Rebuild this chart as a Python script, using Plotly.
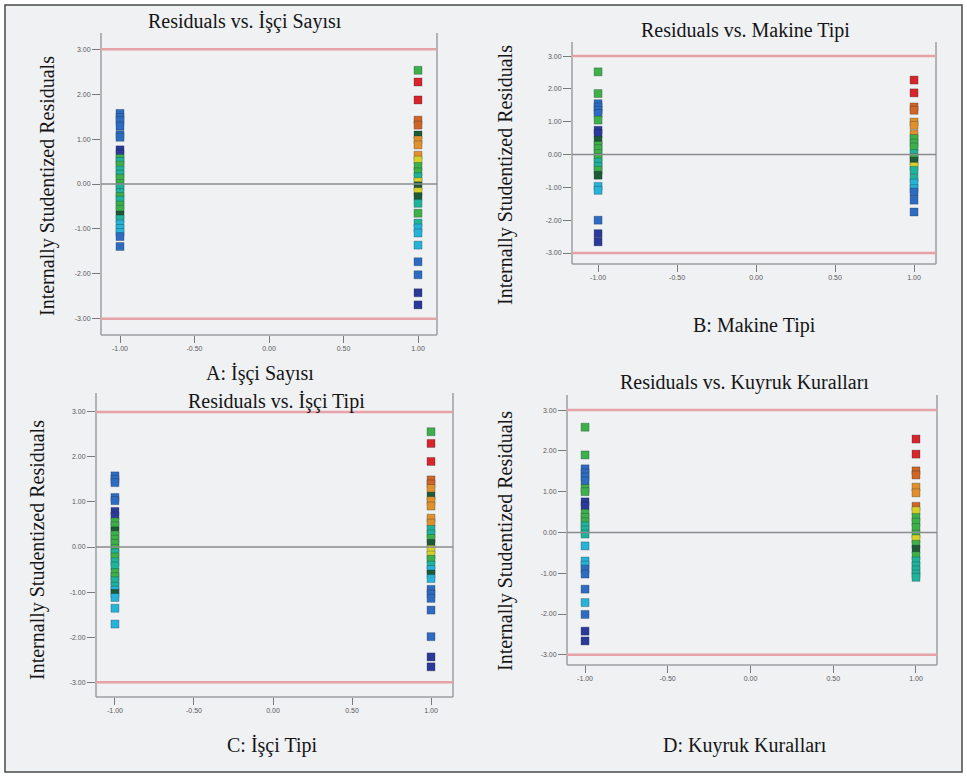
import plotly.graph_objects as go

W, H = 967, 777

# ---- residuals by factor level (internally studentized) ----
# colour codes: B dark blue, b blue, c cyan, t teal, g green, G dark green,
#               y yellow, o orange, O dark orange, r red
A_LOW = [1.57, 1.48, 1.41, 1.29, 1.10, 1.04, 0.76, 0.68, 0.57, 0.50, 0.42, 0.31, 0.22, 0.13,
         0.01, -0.07, -0.19, -0.28, -0.36, -0.47, -0.56, -0.69, -0.78, -0.89, -0.99, -1.08,
         -1.17, -1.39]
A_LOW_COL = "bbbbbbBBgtgttggttgtggGtcccbb"
A_HIGH = [2.53, 2.27, 1.87, 1.42, 1.31, 1.09, 0.98, 0.87, 0.64, 0.53, 0.39, 0.27, 0.16, 0.05,
          -0.04, -0.17, -0.28, -0.43, -0.65, -0.87, -0.98, -1.09, -1.36, -1.73, -2.02, -2.42,
          -2.69]
A_HIGH_COL = "grrOOGoooyggtyGyGtgtcccbbBB"

B_LOW = [2.52, 1.86, 1.55, 1.45, 1.35, 1.25, 1.05, 0.74, 0.64, 0.44, 0.28, 0.18, 0.03, -0.09,
         -0.23, -0.36, -0.48, -0.63, -0.97, -1.09, -2.00, -2.41, -2.66]
B_LOW_COL = "ggbbbbgBBGggggttgGccbBB"
B_HIGH = [2.27, 1.88, 1.45, 1.35, 0.99, 0.89, 0.62, 0.49, 0.35, 0.23, 0.03, -0.09, -0.20, -0.36,
          -0.48, -0.73, -0.87, -1.04, -1.14, -1.39, -1.75]
B_HIGH_COL = "rrOOooogggtgGyttccbbbc"

C_LOW = [1.58, 1.50, 1.43, 1.10, 1.03, 0.79, 0.69, 0.56, 0.47, 0.36, 0.27, 0.17, 0.08, -0.03,
         -0.13, -0.22, -0.33, -0.42, -0.57, -0.66, -0.75, -0.87, -0.96, -1.03, -1.12, -1.36,
         -1.71]
C_LOW_COL = "bbbbbBBggGggggtgttggttcGccc"
C_HIGH = [2.56, 2.30, 1.90, 1.49, 1.40, 1.30, 1.13, 1.03, 0.91, 0.64, 0.53, 0.39, 0.29, 0.19,
          0.08, -0.05, -0.18, -0.27, -0.40, -0.50, -0.60, -0.70, -0.94, -1.04, -1.14, -1.40,
          -1.99, -2.44, -2.66]
C_HIGH_COL = "grrOOoGoooottgGyygtcGcbbbbbBB"

D_LOW = [2.58, 1.90, 1.56, 1.46, 1.36, 1.26, 1.08, 1.00, 0.75, 0.65, 0.47, 0.37, 0.26, 0.16,
         0.06, -0.04, -0.33, -0.70, -0.80, -0.90, -1.02, -1.39, -1.72, -2.01, -2.42, -2.66]
D_LOW_COL = "ggbbbbggBBgggtttcccbbbcbBB"
D_HIGH = [2.29, 1.92, 1.51, 1.41, 1.11, 0.97, 0.64, 0.53, 0.37, 0.25, 0.12, -0.04, -0.16, -0.29,
          -0.41, -0.57, -0.70, -0.82, -0.92, -1.02, -1.10]
D_HIGH_COL = "rrOOooOyggggygGgttttt"

LEVELS = [-1.0, 1.0]
X_TICKS = [-1.0, -0.5, 0.0, 0.5, 1.0]
X_TICK_TEXT = ["-1.00", "-0.50", "0.00", "0.50", "1.00"]
Y_TICKS = [-3, -2, -1, 0, 1, 2, 3]
Y_TICK_TEXT = ["-3.00", "-2.00", "-1.00", "0.00", "1.00", "2.00", "3.00"]
LIMIT = 3.0

TITLES = ["Residuals vs. İşçi Sayısı", "Residuals vs. Makine Tipi",
          "Residuals vs. İşçi Tipi", "Residuals vs. Kuyruk Kuralları"]
XLABELS = ["A: İşçi Sayısı", "B: Makine Tipi", "C: İşçi Tipi", "D: Kuyruk Kuralları"]
YLABEL = "Internally Studentized Residuals"

PALETTE = {
    "B": "#2b3a9a", "b": "#2e6cc2", "c": "#27b2d8", "t": "#1fb39c", "g": "#3db04a",
    "G": "#1d5a36", "y": "#d6d22a", "o": "#e0902c", "O": "#cf6527", "r": "#d8242b",
}

# ---- layout geometry (pixels) ----
panels = [
    dict(low=(A_LOW, A_LOW_COL), high=(A_HIGH, A_HIGH_COL),
         box=(101, 33, 437, 335), xr=[-1.1275, 1.1275], yr=[-3.36, 3.36],
         title_at=(245, 22), xlab_at=(260, 373), ylab_at=(48, 186)),
    dict(low=(B_LOW, B_LOW_COL), high=(B_HIGH, B_HIGH_COL),
         box=(572, 42, 936, 264), xr=[-1.165, 1.139], yr=[-3.335, 3.43],
         title_at=(745, 30), xlab_at=(754, 325), ylab_at=(505, 175)),
    dict(low=(C_LOW, C_LOW_COL), high=(C_HIGH, C_HIGH_COL),
         box=(96, 393, 453, 697), xr=[-1.12, 1.139], yr=[-3.33, 3.42],
         title_at=(276, 401), xlab_at=(272, 745), ylab_at=(37, 550)),
    dict(low=(D_LOW, D_LOW_COL), high=(D_HIGH, D_HIGH_COL),
         box=(567, 395, 937, 665), xr=[-1.109, 1.127], yr=[-3.25, 3.37],
         title_at=(744, 382), xlab_at=(745, 745), ylab_at=(505, 541)),
]

SERIF = "Liberation Serif, Times New Roman, serif"
FRAME = "#9c9ea2"


def px(x):
    return x / W


def py(y):
    return 1 - y / H


def label(text, at, angle=0):
    return dict(text=text, x=px(at[0]), y=py(at[1]), xref="paper", yref="paper",
                xanchor="center", yanchor="middle", showarrow=False, textangle=angle,
                font=dict(family=SERIF, size=20, color="#151515"))


fig = go.Figure()
layout = dict(
    width=W, height=H, margin=dict(l=0, r=0, t=0, b=0),
    paper_bgcolor="white", plot_bgcolor="rgba(0,0,0,0)",
    showlegend=False, shapes=[], annotations=[],
)

# outer border with tinted background
layout["shapes"].append(dict(type="rect", xref="paper", yref="paper",
                             x0=px(5), x1=px(962), y0=py(772), y1=py(5),
                             line=dict(color="#4a4a4a", width=1.5),
                             fillcolor="#eff1f3", layer="below"))

for i, p in enumerate(panels):
    n = "" if i == 0 else str(i + 1)
    xa, ya = "x" + n, "y" + n
    l, t, r, b = p["box"]
    for lvl, (vals, cols) in zip(LEVELS, (p["low"], p["high"])):
        fig.add_trace(go.Scatter(
            x=[lvl] * len(vals), y=vals, mode="markers", xaxis=xa, yaxis=ya,
            marker=dict(symbol="square", size=8,
                        color=[PALETTE[c] for c in cols],
                        line=dict(color="rgba(20,30,40,0.45)", width=0.6)),
            hoverinfo="x+y"))

    layout["xaxis" + n] = dict(
        domain=[px(l), px(r)], range=p["xr"], anchor=ya,
        tickmode="array", tickvals=X_TICKS, ticktext=X_TICK_TEXT,
        ticks="outside", ticklen=7, tickcolor="#7a7a7a", tickwidth=1,
        tickfont=dict(size=7, color="#5a5a5a", family="Arial, Liberation Sans"),
        showgrid=False, zeroline=False, showline=False)
    layout["yaxis" + n] = dict(
        domain=[py(b), py(t)], range=p["yr"], anchor=xa,
        tickmode="array", tickvals=Y_TICKS, ticktext=Y_TICK_TEXT,
        ticks="outside", ticklen=8, tickcolor="#7a7a7a", tickwidth=1,
        tickfont=dict(size=7, color="#5a5a5a", family="Arial, Liberation Sans"),
        showgrid=False, zeroline=False, showline=False)

    dx, dy = xa + " domain", ya + " domain"
    # open frame: left, right and bottom edges
    for x0, y0, x1, y1 in ((0, 0, 0, 1), (1, 0, 1, 1), (0, 0, 1, 0)):
        layout["shapes"].append(dict(type="line", xref=dx, yref=dy,
                                     x0=x0, y0=y0, x1=x1, y1=y1,
                                     line=dict(color=FRAME, width=1.5)))
    # ±3 limit lines
    for lim in (LIMIT, -LIMIT):
        layout["shapes"].append(dict(type="line", xref=dx, yref=ya,
                                     x0=0, x1=1, y0=lim, y1=lim,
                                     line=dict(color="#e6a2a6", width=2.5)))
    # zero reference line
    layout["shapes"].append(dict(type="line", xref=dx, yref=ya, x0=0, x1=1, y0=0, y1=0,
                                 line=dict(color="#8a8c8e", width=1.5), layer="above"))

    layout["annotations"].append(label(TITLES[i], p["title_at"]))
    layout["annotations"].append(label(XLABELS[i], p["xlab_at"]))
    layout["annotations"].append(label(YLABEL, p["ylab_at"], angle=-90))

fig.update_layout(**layout)
fig.write_html("out.html")
